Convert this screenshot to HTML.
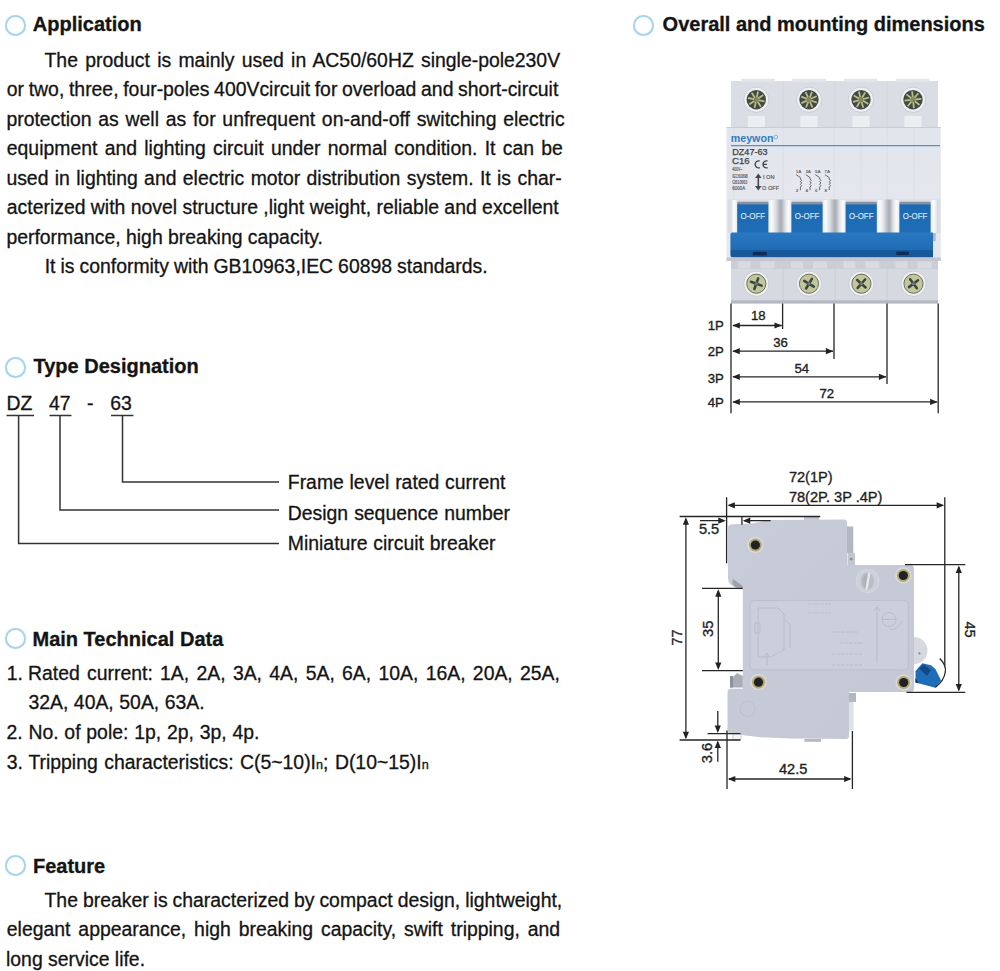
<!DOCTYPE html>
<html><head><meta charset="utf-8"><style>
html,body{margin:0;padding:0;background:#fff;}
body{width:1000px;height:971px;position:relative;overflow:hidden;font-family:"Liberation Sans",sans-serif;color:#141414;}
.t{position:absolute;white-space:nowrap;font-size:19.4px;line-height:24px;-webkit-text-stroke:0.3px #141414;}
.abs{position:absolute;}
.c{position:absolute;width:17px;height:17px;border-radius:50%;border:2px solid #a8d3ec;box-shadow:0 0 1.5px #d4e9f6;background:#fff;}
.sub{font-size:12.6px;}
</style></head><body>
<svg class="abs" style="left:0;top:0" width="300" height="560" viewBox="0 0 300 560">
<g stroke="#333" stroke-width="1.5" fill="none">
<path d="M6.5 415.5H34M49.5 415.5H71.5M111 415.5H133.4"/>
<path d="M18.6 415.5V543.6H279M60 415.5V510H279M122.5 415.5V482H279"/>
</g></svg>
<svg class="abs" style="left:0;top:0" width="1000" height="971" viewBox="0 0 1000 971" font-family="Liberation Sans, sans-serif"><defs>
<radialGradient id="scr" cx="0.45" cy="0.45" r="0.6"><stop offset="0" stop-color="#9aa36a"/><stop offset="0.6" stop-color="#5d6a4c"/><stop offset="1" stop-color="#3c4637"/></radialGradient>
<linearGradient id="bodyg" x1="0" y1="0" x2="0" y2="1"><stop offset="0" stop-color="#e3e5ec"/><stop offset="1" stop-color="#e6e8ee"/></linearGradient>
<linearGradient id="togg" x1="0" y1="0" x2="0" y2="1"><stop offset="0" stop-color="#1d6ab2"/><stop offset="1" stop-color="#1e6db6"/></linearGradient>
<linearGradient id="barg" x1="0" y1="0" x2="0" y2="1"><stop offset="0" stop-color="#2a78c0"/><stop offset="0.7" stop-color="#1f6cb5"/><stop offset="0.72" stop-color="#175b9d"/><stop offset="1" stop-color="#165897"/></linearGradient>
<linearGradient id="gapg" x1="0" x2="1"><stop offset="0" stop-color="#e9ebee"/><stop offset="0.45" stop-color="#b4b8c0"/><stop offset="0.6" stop-color="#a6aab2"/><stop offset="1" stop-color="#e2e4e8"/></linearGradient>
<linearGradient id="wband" x1="0" x2="1"><stop offset="0" stop-color="#e4e6ea"/><stop offset="0.5" stop-color="#fbfbfc"/><stop offset="1" stop-color="#e4e6ea"/></linearGradient>
<linearGradient id="sideg" x1="0" y1="0" x2="1" y2="1"><stop offset="0" stop-color="#c8ccd8"/><stop offset="1" stop-color="#c4c8d5"/></linearGradient>
</defs><rect x="731" y="81" width="207" height="47" fill="#dadde4"/><rect x="741" y="78.8" width="34" height="3" fill="#e3e5ea"/><rect x="792" y="78.8" width="34" height="3" fill="#e3e5ea"/><rect x="844" y="78.8" width="33" height="3" fill="#e3e5ea"/><rect x="896" y="78.8" width="33" height="3" fill="#e3e5ea"/><path d="M783 81V127" stroke="#d2d5dc" stroke-width="1"/><path d="M835 81V127" stroke="#d2d5dc" stroke-width="1"/><path d="M887 81V127" stroke="#d2d5dc" stroke-width="1"/><rect x="747.3" y="115.5" width="18" height="12" fill="#eceef2" stroke="#d6d9df" stroke-width="0.6"/><circle cx="756.3" cy="99.7" r="12.6" fill="#eef0f3" stroke="#c6cad1" stroke-width="0.9"/><circle cx="756.3" cy="99.7" r="9.7" fill="#414b41"/><path d="M758.5 100.2L764.5 101.4M757.5 101.5L760.9 106.7M755.8 101.9L754.6 107.9M754.5 100.9L749.3 104.3M754.1 99.2L748.1 98.0M755.1 97.9L751.7 92.7M756.8 97.5L758.0 91.5M758.1 98.5L763.3 95.1" stroke="#b9bd8c" stroke-width="1.8"/><circle cx="756.3" cy="99.7" r="2.3" fill="#8a8756"/><rect x="800" y="115.5" width="18" height="12" fill="#eceef2" stroke="#d6d9df" stroke-width="0.6"/><circle cx="809" cy="99.7" r="12.6" fill="#eef0f3" stroke="#c6cad1" stroke-width="0.9"/><circle cx="809" cy="99.7" r="9.7" fill="#414b41"/><path d="M811.1 100.5L816.8 102.7M809.9 101.7L812.4 107.4M808.2 101.8L806.0 107.5M807.0 100.6L801.3 103.1M806.9 98.9L801.2 96.7M808.1 97.7L805.6 92.0M809.8 97.6L812.0 91.9M811.0 98.8L816.7 96.3" stroke="#b9bd8c" stroke-width="1.8"/><circle cx="809" cy="99.7" r="2.3" fill="#8a8756"/><rect x="852" y="115.5" width="18" height="12" fill="#eceef2" stroke="#d6d9df" stroke-width="0.6"/><circle cx="861" cy="99.7" r="12.6" fill="#eef0f3" stroke="#c6cad1" stroke-width="0.9"/><circle cx="861" cy="99.7" r="9.7" fill="#414b41"/><path d="M862.9 100.8L868.3 103.9M861.6 101.8L863.2 107.8M859.9 101.6L856.8 107.0M858.9 100.3L852.9 101.9M859.1 98.6L853.7 95.5M860.4 97.6L858.8 91.6M862.1 97.8L865.2 92.4M863.1 99.1L869.1 97.5" stroke="#b9bd8c" stroke-width="1.8"/><circle cx="861" cy="99.7" r="2.3" fill="#8a8756"/><rect x="904" y="115.5" width="18" height="12" fill="#eceef2" stroke="#d6d9df" stroke-width="0.6"/><circle cx="913" cy="99.7" r="12.6" fill="#eef0f3" stroke="#c6cad1" stroke-width="0.9"/><circle cx="913" cy="99.7" r="9.7" fill="#414b41"/><path d="M914.7 101.1L919.5 105.0M913.2 101.9L913.9 108.1M911.6 101.4L907.7 106.2M910.8 99.9L904.6 100.6M911.3 98.3L906.5 94.4M912.8 97.5L912.1 91.3M914.4 98.0L918.3 93.2M915.2 99.5L921.4 98.8" stroke="#b9bd8c" stroke-width="1.8"/><circle cx="913" cy="99.7" r="2.3" fill="#8a8756"/><rect x="726.5" y="127" width="214.3" height="134" fill="url(#bodyg)"/><path d="M726.5 127.5H940.8" stroke="#c9ccd4" stroke-width="1"/><path d="M734 128V200" stroke="#d9dce3" stroke-width="0.8"/><path d="M783 128V200" stroke="#d9dce3" stroke-width="0.8"/><path d="M834 128V200" stroke="#d9dce3" stroke-width="0.8"/><path d="M861 128V200" stroke="#d9dce3" stroke-width="0.8"/><path d="M887 128V200" stroke="#d9dce3" stroke-width="0.8"/><path d="M914 128V200" stroke="#d9dce3" stroke-width="0.8"/><path d="M731 145.6H940" stroke="#4f93cc" stroke-width="1.4"/><text x="730.8" y="142.2" font-size="10.6" font-weight="bold" fill="#2f80c2" textLength="42.6" lengthAdjust="spacingAndGlyphs">meywon</text><circle cx="775.8" cy="137" r="1.8" fill="none" stroke="#5d9bd0" stroke-width="0.7"/><text x="732.3" y="155.4" font-size="8.8" fill="#3f4248" stroke="#3f4248" stroke-width="0.25" textLength="35.2" lengthAdjust="spacingAndGlyphs">DZ47-63</text><text x="732" y="164.2" font-size="9.4" fill="#3f4248" stroke="#3f4248" stroke-width="0.25" textLength="17.7" lengthAdjust="spacingAndGlyphs">C16</text><path d="M759.8 161A3.5 3.5 0 1 0 759.8 167.6M767.6 161A3.5 3.5 0 1 0 767.6 167.6M763.4 164.3H767" stroke="#3f4248" stroke-width="1.3" fill="none"/><text x="732.3" y="171.4" font-size="4.9" fill="#55585f" stroke="#55585f" stroke-width="0.15" textLength="10" lengthAdjust="spacingAndGlyphs">400V~</text><text x="732.3" y="177.7" font-size="4.9" fill="#55585f" stroke="#55585f" stroke-width="0.15" textLength="15.5" lengthAdjust="spacingAndGlyphs">IEC60898</text><text x="732.3" y="184.0" font-size="4.9" fill="#55585f" stroke="#55585f" stroke-width="0.15" textLength="15" lengthAdjust="spacingAndGlyphs">GB10963</text><text x="732.3" y="190.3" font-size="4.9" fill="#55585f" stroke="#55585f" stroke-width="0.15" textLength="13" lengthAdjust="spacingAndGlyphs">6000A</text><path d="M758.3 176V188" stroke="#45484e" stroke-width="1.6"/><path d="M755 178L758.3 173.5L761.6 178ZM755 186L758.3 190.5L761.6 186Z" fill="#45484e"/><text x="763" y="178.6" font-size="5.6" fill="#4f5258" stroke="#4f5258" stroke-width="0.15">I ON</text><text x="762" y="190.4" font-size="5.6" fill="#4f5258" stroke="#4f5258" stroke-width="0.15">O OFF</text><rect x="792.5" y="168" width="41" height="25" fill="#eceef2" opacity="0.3"/><text x="795.8" y="172.9" font-size="4.4" font-weight="bold" fill="#5c6068">1A</text><path d="M796.0999999999999 174.6L800.4 177.6V179q2.6 1.3 0 2.7q2.6 1.3 0 2.7q2.6 1.3 0 2.7V190.2" stroke="#5c6068" stroke-width="0.95" fill="none"/><text x="795.8" y="191.6" font-size="4.4" font-weight="bold" fill="#5c6068">2</text><text x="805.4" y="172.9" font-size="4.4" font-weight="bold" fill="#5c6068">3A</text><path d="M805.6999999999999 174.6L810.0 177.6V179q2.6 1.3 0 2.7q2.6 1.3 0 2.7q2.6 1.3 0 2.7V190.2" stroke="#5c6068" stroke-width="0.95" fill="none"/><text x="805.4" y="191.6" font-size="4.4" font-weight="bold" fill="#5c6068">4</text><text x="815.0" y="172.9" font-size="4.4" font-weight="bold" fill="#5c6068">5A</text><path d="M815.3 174.6L819.6 177.6V179q2.6 1.3 0 2.7q2.6 1.3 0 2.7q2.6 1.3 0 2.7V190.2" stroke="#5c6068" stroke-width="0.95" fill="none"/><text x="815.0" y="191.6" font-size="4.4" font-weight="bold" fill="#5c6068">6</text><text x="824.5999999999999" y="172.9" font-size="4.4" font-weight="bold" fill="#5c6068">7A</text><path d="M824.8999999999999 174.6L829.1999999999999 177.6V179q2.6 1.3 0 2.7q2.6 1.3 0 2.7q2.6 1.3 0 2.7V190.2" stroke="#5c6068" stroke-width="0.95" fill="none"/><text x="824.5999999999999" y="191.6" font-size="4.4" font-weight="bold" fill="#5c6068">8</text><rect x="727.4" y="199.5" width="213" height="33.5" fill="#dadde3"/><rect x="774.3" y="199.5" width="11.200000000000045" height="33.5" fill="url(#gapg)"/><rect x="828.5" y="199.5" width="11.200000000000045" height="33.5" fill="url(#gapg)"/><rect x="882.7" y="199.5" width="10.799999999999955" height="33.5" fill="url(#gapg)"/><rect x="731.3" y="200" width="6.2" height="33" fill="url(#wband)"/><rect x="768.0999999999999" y="200" width="6.5" height="33" fill="url(#wband)"/><rect x="785.5" y="200" width="6.2" height="33" fill="url(#wband)"/><rect x="822.3" y="200" width="6.5" height="33" fill="url(#wband)"/><rect x="839.7" y="200" width="6.2" height="33" fill="url(#wband)"/><rect x="876.5" y="200" width="6.5" height="33" fill="url(#wband)"/><rect x="893.5" y="200" width="6.2" height="33" fill="url(#wband)"/><rect x="930.3" y="200" width="6.5" height="33" fill="url(#wband)"/><rect x="737.1999999999999" y="201.8" width="31.2" height="3" fill="#8a919c"/><rect x="737.1999999999999" y="204.3" width="31.2" height="29" fill="url(#togg)"/><text x="740.5999999999999" y="219.4" font-size="9.8" fill="#d2e2f2" stroke="#d2e2f2" stroke-width="0.2" textLength="24.5" lengthAdjust="spacingAndGlyphs">O-OFF</text><rect x="791.4" y="201.8" width="31.2" height="3" fill="#8a919c"/><rect x="791.4" y="204.3" width="31.2" height="29" fill="url(#togg)"/><text x="794.8" y="219.4" font-size="9.8" fill="#d2e2f2" stroke="#d2e2f2" stroke-width="0.2" textLength="24.5" lengthAdjust="spacingAndGlyphs">O-OFF</text><rect x="845.6" y="201.8" width="31.2" height="3" fill="#8a919c"/><rect x="845.6" y="204.3" width="31.2" height="29" fill="url(#togg)"/><text x="849.0" y="219.4" font-size="9.8" fill="#d2e2f2" stroke="#d2e2f2" stroke-width="0.2" textLength="24.5" lengthAdjust="spacingAndGlyphs">O-OFF</text><rect x="899.4" y="201.8" width="31.2" height="3" fill="#8a919c"/><rect x="899.4" y="204.3" width="31.2" height="29" fill="url(#togg)"/><text x="902.8" y="219.4" font-size="9.8" fill="#d2e2f2" stroke="#d2e2f2" stroke-width="0.2" textLength="24.5" lengthAdjust="spacingAndGlyphs">O-OFF</text><path d="M732.4 232.4H933V257.4H732.4Q730.4 257.4 730.4 255V234.8Q730.4 232.4 732.4 232.4Z" fill="url(#barg)"/><rect x="933" y="233" width="2.6" height="8" fill="#b0b4bc"/><rect x="752.8" y="251.8" width="14" height="3.6" fill="#0e2d55"/><rect x="896.3" y="251.6" width="12.7" height="3.4" fill="#0e2d55"/><rect x="726.5" y="257.4" width="214.3" height="3.6" fill="#c4c7cf"/><rect x="731" y="261" width="207" height="42" fill="#d6d9e0"/><rect x="731" y="261" width="207" height="8" fill="#cbced6"/><rect x="738.3" y="261.5" width="12" height="7" fill="#d9dbe1"/><rect x="760.3" y="261.5" width="14" height="7" fill="#d9dbe1"/><rect x="791" y="261.5" width="12" height="7" fill="#d9dbe1"/><rect x="813" y="261.5" width="14" height="7" fill="#d9dbe1"/><rect x="843.4" y="261.5" width="12" height="7" fill="#d9dbe1"/><rect x="865.4" y="261.5" width="14" height="7" fill="#d9dbe1"/><rect x="895.5" y="261.5" width="12" height="7" fill="#d9dbe1"/><rect x="917.5" y="261.5" width="14" height="7" fill="#d9dbe1"/><path d="M783 262V301" stroke="#c8cbd3" stroke-width="0.8"/><path d="M835 262V301" stroke="#c8cbd3" stroke-width="0.8"/><path d="M887 262V301" stroke="#c8cbd3" stroke-width="0.8"/><rect x="731" y="300.3" width="207" height="3.3" fill="#b3b8c2"/><circle cx="756.3" cy="283.7" r="12.6" fill="#eef0f3" stroke="#c6cad1" stroke-width="0.9"/><circle cx="756.3" cy="283.7" r="9.6" fill="#c3c69a" stroke="#5c6354" stroke-width="0.9"/><path d="M751.0 281.8L761.6 285.6M758.2 278.4L754.4 289.0" stroke="#3c4640" stroke-width="2.6" stroke-linecap="round"/><circle cx="756.3" cy="283.7" r="1.6" fill="#6f7a70"/><circle cx="809" cy="283.7" r="12.6" fill="#eef0f3" stroke="#c6cad1" stroke-width="0.9"/><circle cx="809" cy="283.7" r="9.6" fill="#c3c69a" stroke="#5c6354" stroke-width="0.9"/><path d="M804.2 280.8L813.8 286.6M811.9 278.9L806.1 288.5" stroke="#3c4640" stroke-width="2.6" stroke-linecap="round"/><circle cx="809" cy="283.7" r="1.6" fill="#6f7a70"/><circle cx="861.4" cy="283.7" r="12.6" fill="#eef0f3" stroke="#c6cad1" stroke-width="0.9"/><circle cx="861.4" cy="283.7" r="9.6" fill="#c3c69a" stroke="#5c6354" stroke-width="0.9"/><path d="M857.2 280.0L865.6 287.4M865.1 279.5L857.7 287.9" stroke="#3c4640" stroke-width="2.6" stroke-linecap="round"/><circle cx="861.4" cy="283.7" r="1.6" fill="#6f7a70"/><circle cx="913.5" cy="283.7" r="12.6" fill="#eef0f3" stroke="#c6cad1" stroke-width="0.9"/><circle cx="913.5" cy="283.7" r="9.6" fill="#c3c69a" stroke="#5c6354" stroke-width="0.9"/><path d="M910.1 279.2L916.9 288.2M918.0 280.3L909.0 287.1" stroke="#3c4640" stroke-width="2.6" stroke-linecap="round"/><circle cx="913.5" cy="283.7" r="1.6" fill="#6f7a70"/><g stroke="#262626" stroke-width="1.3" fill="none"><path d="M731 303.6V413.2M782.6 303.6V329M834 303.6V359M887 303.6V384M938.2 303.6V413.2"/><path d="M733 325.5H781.6"/><path d="M733 351.2H833"/><path d="M733 376.8H886"/><path d="M733 401.9H937.2"/></g><path d="M732.3 325.5L739.8 322.4L739.8 328.6Z" fill="#222"/><path d="M782.0 325.5L774.5 322.4L774.5 328.6Z" fill="#222"/><path d="M732.3 351.2L739.8 348.09999999999997L739.8 354.3Z" fill="#222"/><path d="M833.4 351.2L825.9 348.09999999999997L825.9 354.3Z" fill="#222"/><path d="M732.3 376.8L739.8 373.7L739.8 379.90000000000003Z" fill="#222"/><path d="M886.4 376.8L878.9 373.7L878.9 379.90000000000003Z" fill="#222"/><path d="M732.3 401.9L739.8 398.79999999999995L739.8 405.0Z" fill="#222"/><path d="M937.6 401.9L930.1 398.79999999999995L930.1 405.0Z" fill="#222"/><g font-size="13.2" fill="#1e1e1e" stroke="#1e1e1e" stroke-width="0.35"><text x="707.7" y="330.2">1P</text><text x="707.7" y="356.3">2P</text><text x="707.7" y="382.9">3P</text><text x="707.7" y="407.2">4P</text><text x="751" y="320.1">18</text><text x="773.2" y="346.8">36</text><text x="794.5" y="373">54</text><text x="819.5" y="397.8">72</text></g><path d="M728 527Q729 524.5 733 524.3L752 523.6Q762 521 772 520L844 519.5Q847 519.5 847 522.5V565H910.5Q914 565 914 568.5V688.5Q914 692 910.5 692H849V736Q849 739 846 739L790 738.6L760 737.2L742 735L731 733.5Q727.5 733 727.5 730V692.5Q727.5 688.7 731 688.7H742.8V587.5H739Q728 587 728 578Z" fill="url(#sideg)"/><rect x="804" y="516.8" width="15" height="3" fill="#bfc3cd"/><rect x="804.4" y="739" width="16.6" height="2.8" fill="#b4b8c3"/><rect x="847" y="526.5" width="6.3" height="26.5" fill="#b3b7c1"/><rect x="847.5" y="553" width="7.5" height="12" fill="#c3c7d0"/><circle cx="851.2" cy="559" r="1.6" fill="#8d919b"/><rect x="849" y="693" width="7" height="9" fill="#b3b7c1"/><rect x="849" y="702" width="4.5" height="28.5" fill="#dfe1e6"/><path d="M733 579L742.8 586V588L736 587.5Q731 585 733 579Z" fill="#9ea2ad"/><path d="M730 680L737 673L742.8 676V687.5H730Z" fill="#a9adb8"/><path d="M730 676V687.5H733V676Z" fill="#8c909a"/><rect x="733" y="733.8" width="8" height="5.8" fill="#f4f5f7" stroke="#b0b4be" stroke-width="0.6"/><path d="M914 637A13.5 13.5 0 0 1 914 664Z" fill="#d6d9e0"/><circle cx="919.5" cy="653.4" r="1.1" fill="#808690"/><path d="M915.5 671.1L922.4 663.2L931 665.3L935.4 668.9L941.1 680.5L935.4 687.7L915.5 682.6Z" fill="#1f6db8"/><path d="M919 668.5L923.5 664.5L931 670L927 676Z" fill="#0f3f78" opacity="0.8"/><path d="M915.5 678L918.5 683.2L915.5 682.6Z" fill="#0b2f5c"/><rect x="750" y="600.5" width="158.3" height="69.3" rx="4" fill="#cbcfdb" stroke="#b9bdc9" stroke-width="0.8"/><g stroke="#b3b8c5" stroke-width="0.8" fill="none"><path d="M758 608H778L784 614V650L770 657H758Z"/><path d="M755 623H760V633H755Z"/><path d="M784 619L790 624V648"/><path d="M767 665V654M764 657L767 653L770 657"/><path d="M877 663V608M874 611L877 607L880 611"/><circle cx="889" cy="619.5" r="7"/><path d="M882 619.5H896"/><path d="M890 630Q898 630 902 621"/><path d="M832 632H858M840 643H863M832 654H863M832 665H863" stroke-dasharray="3 1.5"/><path d="M808 604H832M808 613H832" stroke-dasharray="2 1.5"/></g><circle cx="867.6" cy="581" r="11.5" fill="#ccd0da" stroke="#d6d9e1" stroke-width="1"/><ellipse cx="867.3" cy="581.2" rx="6.6" ry="8.6" fill="#b9bdc7"/><ellipse cx="866" cy="581.5" rx="3" ry="7" fill="#aeb2bd"/><path d="M869.4 572.8L866.4 589.6" stroke="#e6e8ec" stroke-width="2.4"/><circle cx="747.5" cy="709" r="7.5" fill="none" stroke="#b6bbc7" stroke-width="0.8"/><circle cx="755.4" cy="545" r="8.3" fill="#d6d8de"/><circle cx="755.4" cy="545" r="6.5" fill="#b7a86c"/><circle cx="755.4" cy="545" r="4.6" fill="#1e2327"/><circle cx="903.3" cy="575.5" r="8.3" fill="#d6d8de"/><circle cx="903.3" cy="575.5" r="6.5" fill="#b7a86c"/><circle cx="903.3" cy="575.5" r="4.6" fill="#1e2327"/><circle cx="758.5" cy="682.2" r="8.3" fill="#d6d8de"/><circle cx="758.5" cy="682.2" r="6.5" fill="#b7a86c"/><circle cx="758.5" cy="682.2" r="4.6" fill="#1e2327"/><circle cx="903.7" cy="682.5" r="8.3" fill="#d6d8de"/><circle cx="903.7" cy="682.5" r="6.5" fill="#b7a86c"/><circle cx="903.7" cy="682.5" r="4.6" fill="#1e2327"/><g stroke="#262626" stroke-width="1.3" fill="none"><path d="M726.6 497.2V563.3M944.8 497.2V665.3"/><path d="M729 505.3H942.5"/><path d="M939.7 658.5Q946.5 665 945.3 672Q944 681 935.4 687.3"/><path d="M679.6 516.5H820.2M679.6 740H740.5"/><path d="M685.9 519V737.5"/><path d="M700 520.7H724M744 520.7H770.6M741.9 516.5V524.8"/><path d="M702 588.3H742.8M702 670.7H742.8M718.3 591V668"/><path d="M707.6 733.7H740.5M717.8 711V731M717.8 742.5V761.8"/><path d="M727 730.5V789M852.4 731V789M729 779H850"/><path d="M904.9 564.7H965.3M906.5 692.3H965.3M958.8 567V690"/></g><path d="M727.4 505.3L734.9 502.2L734.9 508.40000000000003Z" fill="#222"/><path d="M944.2 505.3L936.7 502.2L936.7 508.40000000000003Z" fill="#222"/><path d="M685.9 517.3L682.8 524.8L689.0 524.8Z" fill="#222"/><path d="M685.9 739.3L682.8 731.8L689.0 731.8Z" fill="#222"/><path d="M725.8 520.7L718.3 517.6L718.3 523.8000000000001Z" fill="#222"/><path d="M742.8 520.7L750.3 517.6L750.3 523.8000000000001Z" fill="#222"/><path d="M718.3 589.2L715.1999999999999 596.7L721.4 596.7Z" fill="#222"/><path d="M718.3 669.9L715.1999999999999 662.4L721.4 662.4Z" fill="#222"/><path d="M717.8 733L714.6999999999999 725.5L720.9 725.5Z" fill="#222"/><path d="M717.8 740.6L714.6999999999999 748.1L720.9 748.1Z" fill="#222"/><path d="M727.8 779L735.3 775.9L735.3 782.1Z" fill="#222"/><path d="M851.6 779L844.1 775.9L844.1 782.1Z" fill="#222"/><path d="M958.8 565.5L955.6999999999999 573.0L961.9 573.0Z" fill="#222"/><path d="M958.8 691.5L955.6999999999999 684.0L961.9 684.0Z" fill="#222"/><g font-size="14.6" fill="#1e1e1e" stroke="#1e1e1e" stroke-width="0.35"><text x="788.9" y="482.1">72(1P)</text><text x="788.9" y="502.3">78(2P. 3P .4P)</text><text x="698.9" y="534.4">5.5</text><text x="779" y="774">42.5</text><text transform="translate(681.9 637.5) rotate(-90)" text-anchor="middle">77</text><text transform="translate(713.4 628.8) rotate(-90)" text-anchor="middle">35</text><text transform="translate(712.3 753) rotate(-90)" text-anchor="middle">3.6</text><text transform="translate(964.5 629.6) rotate(90)" text-anchor="middle">45</text></g></svg>
<div class="c" style="left:4.5px;top:14.7px"></div><div class="c" style="left:4.5px;top:357.0px"></div><div class="c" style="left:4.5px;top:628.0px"></div><div class="c" style="left:4.5px;top:855.0px"></div><div class="c" style="left:633.1px;top:14.5px"></div>
<div class="t" style="left:32.80px;top:11.67px;font-size:20px;font-weight:bold;">Application</div><div class="t" style="left:44.50px;top:47.57px;word-spacing:1.90px;">The product is mainly used in AC50/60HZ single-pole230V</div><div class="t" style="left:6.80px;top:77.11px;word-spacing:-0.71px;">or two, three, four-poles 400Vcircuit for overload and short-circuit</div><div class="t" style="left:6.40px;top:106.65px;word-spacing:1.38px;">protection as well as for unfrequent on-and-off switching electric</div><div class="t" style="left:6.80px;top:136.19px;word-spacing:1.90px;">equipment and lighting circuit under normal condition. It can be</div><div class="t" style="left:6.40px;top:165.73px;word-spacing:0.99px;">used in lighting and electric motor distribution system. It is char-</div><div class="t" style="left:6.80px;top:195.27px;">acterized with novel structure ,light weight, reliable and excellent</div><div class="t" style="left:6.40px;top:224.81px;">performance, high breaking capacity.</div><div class="t" style="left:44.70px;top:254.35px;word-spacing:-0.37px;">It is conformity with GB10963,IEC 60898 standards.</div><div class="t" style="left:33.50px;top:353.87px;font-size:20px;font-weight:bold;">Type Designation</div><div class="t" style="left:6.50px;top:391.27px;">DZ</div><div class="t" style="left:49.00px;top:391.27px;">47</div><div class="t" style="left:87.00px;top:391.27px;">-</div><div class="t" style="left:110.30px;top:391.27px;">63</div><div class="t" style="left:287.80px;top:470.02px;word-spacing:0.33px;">Frame level rated current</div><div class="t" style="left:287.80px;top:500.77px;word-spacing:0.59px;">Design sequence number</div><div class="t" style="left:287.80px;top:531.27px;word-spacing:0.38px;">Miniature circuit breaker</div><div class="t" style="left:32.50px;top:626.87px;font-size:20px;font-weight:bold;">Main Technical Data</div><div class="t" style="left:6.70px;top:660.97px;">1.</div><div class="t" style="left:28.00px;top:660.97px;word-spacing:1.91px;">Rated current: 1A, 2A, 3A, 4A, 5A, 6A, 10A, 16A, 20A, 25A,</div><div class="t" style="left:28.40px;top:690.37px;word-spacing:0.19px;">32A, 40A, 50A, 63A.</div><div class="t" style="left:6.40px;top:720.27px;">2.</div><div class="t" style="left:28.40px;top:720.27px;word-spacing:0.41px;">No. of pole: 1p, 2p, 3p, 4p.</div><div class="t" style="left:6.70px;top:749.97px;">3.</div><div class="t" style="left:28.40px;top:749.97px;word-spacing:1.1px;">Tripping characteristics: C(5~10)I<span class="sub">n</span>; D(10~15)I<span class="sub">n</span></div><div class="t" style="left:33.00px;top:853.87px;font-size:20px;font-weight:bold;">Feature</div><div class="t" style="left:44.50px;top:888.07px;word-spacing:-0.41px;">The breaker is characterized by compact design, lightweight,</div><div class="t" style="left:6.80px;top:917.07px;word-spacing:2.56px;">elegant appearance, high breaking capacity, swift tripping, and</div><div class="t" style="left:6.00px;top:947.07px;">long service life.</div><div class="t" style="left:662.60px;top:11.67px;font-size:20px;font-weight:bold;">Overall and mounting dimensions</div>
</body></html>
